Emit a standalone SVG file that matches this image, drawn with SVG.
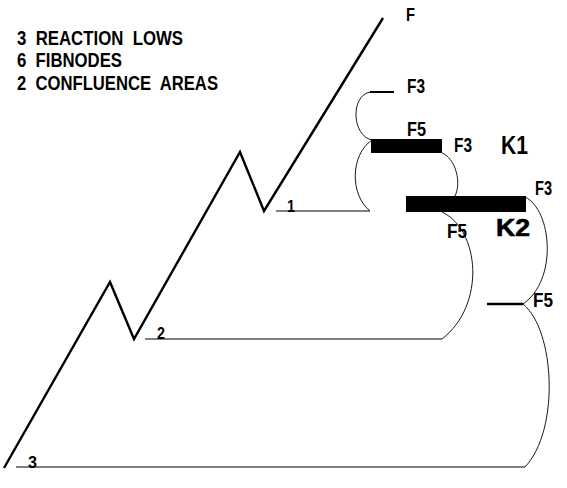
<svg xmlns="http://www.w3.org/2000/svg" width="567" height="488" viewBox="0 0 567 488">
<style>
text{font-family:"Liberation Sans",Arial,sans-serif;font-weight:bold;fill:#000}
.lbl{font-size:21px}
.num{font-size:17px}
.leg{font-size:20px;white-space:pre}
.thin{fill:none;stroke:#000;stroke-width:1}
.arc{fill:none;stroke:#000;stroke-width:0.9}
.thick{fill:none;stroke:#000;stroke-width:2.4;stroke-linejoin:miter}
.bar{fill:#000}
</style>
<rect width="567" height="488" fill="#fff"/>
<g id="legend">
<text class="leg" x="17" y="45" textLength="166" lengthAdjust="spacingAndGlyphs" xml:space="preserve">3  REACTION  LOWS</text>
<text class="leg" x="17" y="67" textLength="105" lengthAdjust="spacingAndGlyphs" xml:space="preserve">6  FIBNODES</text>
<text class="leg" x="17" y="90" textLength="201" lengthAdjust="spacingAndGlyphs" xml:space="preserve">2  CONFLUENCE  AREAS</text>
</g>
<g id="price">
<polyline class="thick" points="4,468 110,282 134,339 240,152 264,211 383,18"/>
<text x="406" y="21" font-size="19" textLength="9" lengthAdjust="spacingAndGlyphs">F</text>
</g>
<g id="low1">
<line class="thin" x1="276" y1="211" x2="370" y2="211"/>
<text class="num" x="287" y="212" textLength="8" lengthAdjust="spacingAndGlyphs">1</text>
</g>
<g id="low2">
<line class="thin" x1="145" y1="339" x2="442" y2="339"/>
<text class="num" x="157" y="339" textLength="8" lengthAdjust="spacingAndGlyphs">2</text>
</g>
<g id="low3">
<line class="thin" x1="16" y1="467" x2="525" y2="467"/>
<text class="num" x="28" y="468" textLength="9" lengthAdjust="spacingAndGlyphs">3</text>
</g>
<g id="node-f3-top">
<line x1="370" y1="92" x2="394" y2="92" stroke="#000" stroke-width="2"/>
<text class="lbl" x="407" y="93" textLength="18" lengthAdjust="spacingAndGlyphs">F3</text>
</g>
<g id="k1">
<rect class="bar" x="371" y="139" width="71" height="14"/>
<text class="lbl" x="407" y="136" textLength="19" lengthAdjust="spacingAndGlyphs">F5</text>
<text class="lbl" x="454" y="152" textLength="18" lengthAdjust="spacingAndGlyphs">F3</text>
<text x="501" y="154" font-size="26" textLength="27" lengthAdjust="spacingAndGlyphs">K1</text>
</g>
<g id="k2">
<rect class="bar" x="406" y="196" width="120" height="16"/>
<text class="lbl" x="535" y="195" textLength="17" lengthAdjust="spacingAndGlyphs">F3</text>
<text class="lbl" x="447" y="238" textLength="20" lengthAdjust="spacingAndGlyphs">F5</text>
<text x="496" y="236" font-size="23" textLength="34" lengthAdjust="spacingAndGlyphs" stroke="#000" stroke-width="0.6">K2</text>
</g>
<g id="node-f5-right">
<line x1="487" y1="304" x2="523" y2="304" stroke="#000" stroke-width="2.5"/>
<text class="lbl" x="533" y="307" textLength="20" lengthAdjust="spacingAndGlyphs">F5</text>
</g>
<g id="connectors">
<path class="arc" d="M370,92 C350,96 352,136 372,140"/>
<path class="arc" d="M372,140 C350,155 350,195 370,211"/>
<path class="arc" d="M442,153 C455,158 462,182 455,196"/>
<path class="arc" d="M442,212 C480,230 486,305 442,339"/>
<path class="arc" d="M525,197 C552,210 558,280 523,304"/>
<path class="arc" d="M523,304 C555,330 560,430 525,467"/>
</g>
</svg>
